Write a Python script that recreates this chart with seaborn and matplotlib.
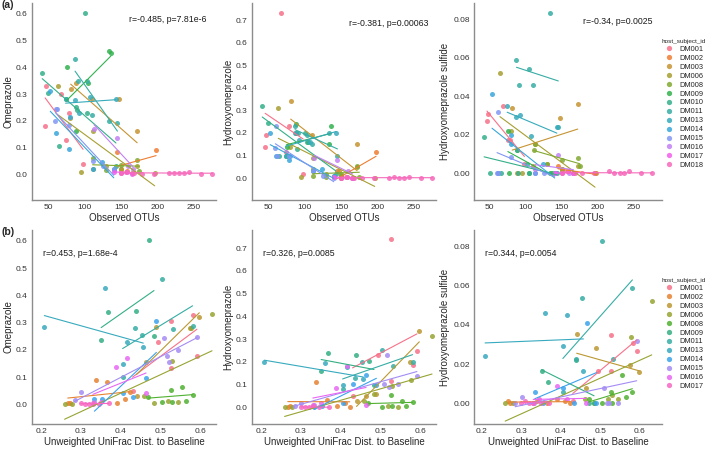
import numpy as np
import matplotlib
matplotlib.use('Agg')
import matplotlib.pyplot as plt
import seaborn as sns
from matplotlib.lines import Line2D

sns.set_style('white')
plt.rcParams['font.family'] = ['Liberation Sans', 'DejaVu Sans']

# ---- (a) Observed OTUs vs metabolites, per subject ----
top_subjects = ['DM001', 'DM002', 'DM003', 'DM006', 'DM008', 'DM009', 'DM010',
                'DM011', 'DM013', 'DM014', 'DM015', 'DM016', 'DM017', 'DM018']

top_otus = {
    'DM001': [46, 47, 68, 75, 78, 98],
    'DM002': [145, 150, 158, 165, 198],
    'DM003': [81, 88, 110, 147, 150, 172],
    'DM006': [64, 80, 95, 112, 130, 150, 172, 196],
    'DM008': [111, 112, 130, 150, 172, 175],
    'DM009': [75, 76, 88, 105, 133, 136],
    'DM010': [42, 50, 65, 88, 89, 101, 104, 140, 143],
    'DM011': [87, 91, 104, 110, 133, 145],
    'DM013': [74, 87, 92, 107, 143],
    'DM014': [53, 61, 79, 80, 112, 124, 140],
    'DM015': [60, 61, 62, 79, 112, 125, 140],
    'DM016': [113, 144, 160, 166],
    'DM017': [140, 150, 158, 165],
    'DM018': [150, 157, 168, 178, 195, 215, 222, 230, 236, 243, 260, 275],
}
top_omep = {
    'DM001': [0.18, 0.33, 0.30, 0.13, 0.23, 0.04],
    'DM002': [0.085, 0.02, 0.014, 0.006, 0.092],
    'DM003': [0.32, 0.34, 0.28, 0.28, 0.01, 0.16],
    'DM006': [0.33, 0.21, 0.01, 0.16, 0.03, 0.02, 0.03, 0.005],
    'DM008': [0.062, 0.02, 0.015, 0.035, 0.054, 0.012],
    'DM009': [0.28, 0.40, 0.16, 0.34, 0.46, 0.455],
    'DM010': [0.378, 0.303, 0.106, 0.253, 0.24, 0.602, 0.228, 0.02, 0.03],
    'DM011': [0.43, 0.35, 0.35, 0.22, 0.2, 0.19],
    'DM013': [0.28, 0.278, 0.228, 0.288, 0.28],
    'DM014': [0.31, 0.153, 0.096, 0.213, 0.02, 0.047, 0.015],
    'DM015': [0.2, 0.245, 0.243, 0.185, 0.05, 0.03, 0.02],
    'DM016': [0.17, 0.135, 0.03, 0.02],
    'DM017': [0.01, 0.005, 0.008, 0.003],
    'DM018': [0.005, 0.01, 0.004, 0.003, 0.003, 0.004, 0.004, 0.005, 0.004, 0.01, 0.003, 0.003],
}
top_hydroxy = {
    'DM001': [0.14, 0.19, 0.73, 0.115, 0.23, 0.02],
    'DM002': [0.03, 0.01, 0.005, 0.0, 0.114],
    'DM003': [0.34, 0.2, 0.19, 0.03, 0.0, 0.15],
    'DM006': [0.31, 0.14, 0.005, 0.09, 0.02, 0.01, 0.05, 0.0],
    'DM008': [0.04, 0.01, 0.005, 0.02, 0.055, 0.005],
    'DM009': [0.1, 0.14, 0.24, 0.16, 0.15, 0.23],
    'DM010': [0.32, 0.245, 0.1, 0.2, 0.13, 0.2, 0.16, 0.01, 0.02],
    'DM011': [0.23, 0.2, 0.19, 0.15, 0.2, 0.1],
    'DM013': [0.1, 0.2, 0.17, 0.16, 0.2],
    'DM014': [0.2, 0.1, 0.08, 0.1, 0.03, 0.04, 0.01],
    'DM015': [0.135, 0.23, 0.1, 0.1, 0.03, 0.01, 0.0],
    'DM016': [0.09, 0.08, 0.03, 0.0],
    'DM017': [0.005, 0.002, 0.004, 0.0],
    'DM018': [0.002, 0.004, 0.0, 0.001, 0.002, 0.001, 0.003, 0.002, 0.001, 0.006, 0.001, 0.0],
}
top_sulfide = {
    'DM001': [0.027, 0.031, 0.035, 0.017, 0.017, 0.005],
    'DM002': [0.0035, 0.002, 0.001, 0.0, 0.0],
    'DM003': [0.034, 0.0, 0.004, 0.0285, 0.001, 0.036],
    'DM006': [0.052, 0.022, 0.0, 0.015, 0.005, 0.002, 0.004, 0.0],
    'DM008': [0.012, 0.015, 0.005, 0.007, 0.008, 0.004],
    'DM009': [0.022, 0.0, 0.012, 0.0, 0.0, 0.0],
    'DM010': [0.019, 0.0, 0.0, 0.012, 0.0, 0.005, 0.0, 0.0, 0.0],
    'DM011': [0.059, 0.046, 0.054, 0.046, 0.083, 0.024],
    'DM013': [0.035, 0.029, 0.03, 0.0195, 0.024],
    'DM014': [0.041, 0.0, 0.02, 0.015, 0.0, 0.005, 0.0],
    'DM015': [0.0, 0.032, 0.0, 0.0085, 0.0, 0.0, 0.0],
    'DM016': [0.002, 0.0094, 0.0, 0.0],
    'DM017': [0.0, 0.0, 0.001, 0.0],
    'DM018': [0.0, 0.001, 0.0, 0.0, 0.0, 0.001, 0.0, 0.0, 0.0, 0.001, 0.0, 0.0],
}

# ---- (b) UniFrac distance to baseline vs metabolites ----
bot_subjects = ['DM001', 'DM002', 'DM003', 'DM006', 'DM008', 'DM009',
                'DM011', 'DM013', 'DM014', 'DM015', 'DM016', 'DM017']

bot_unifrac = {
    'DM001': [0.43, 0.495, 0.527, 0.528, 0.583, 0.592],
    'DM002': [0.267, 0.272, 0.339, 0.366, 0.39, 0.41, 0.423],
    'DM003': [0.44, 0.463, 0.489, 0.575, 0.598],
    'DM006': [0.259, 0.278, 0.46, 0.485, 0.52, 0.53, 0.545, 0.577, 0.63],
    'DM008': [0.47, 0.505, 0.528, 0.53, 0.554, 0.565, 0.581],
    'DM009': [0.351, 0.368, 0.438, 0.471, 0.484],
    'DM011': [0.405, 0.437, 0.453, 0.503, 0.531, 0.581],
    'DM013': [0.208, 0.36, 0.405, 0.415, 0.457],
    'DM014': [0.334, 0.354, 0.405, 0.432, 0.465, 0.49],
    'DM015': [0.284, 0.301, 0.332, 0.509, 0.516, 0.522, 0.545, 0.592],
    'DM016': [0.33, 0.35, 0.389, 0.415, 0.464],
    'DM017': [0.3, 0.31, 0.32, 0.33, 0.345, 0.37],
}
bot_omep = {
    'DM001': [0.05, 0.23, 0.306, 0.132, 0.328, 0.178],
    'DM002': [0.005, 0.005, 0.09, 0.083, 0.005, 0.02, 0.045],
    'DM003': [0.03, 0.157, 0.283, 0.28, 0.322],
    'DM006': [0.0, 0.003, 0.03, 0.006, 0.012, 0.16, 0.01, 0.279, 0.332],
    'DM008': [0.028, 0.01, 0.053, 0.01, 0.065, 0.012, 0.034],
    'DM009': [0.236, 0.34, 0.344, 0.604, 0.25],
    'DM011': [0.1, 0.279, 0.255, 0.459, 0.276, 0.288],
    'DM013': [0.285, 0.426, 0.15, 0.23, 0.212],
    'DM014': [0.02, 0.018, 0.04, 0.028, 0.095, 0.307],
    'DM015': [0.015, 0.047, 0.01, 0.242, 0.178, 0.157, 0.2, 0.246],
    'DM016': [0.003, 0.01, 0.136, 0.169, 0.04],
    'DM017': [0.005, 0.0, 0.003, 0.005, 0.002, 0.004],
}
bot_hydroxy = {
    'DM001': [0.05, 0.23, 0.74, 0.117, 0.186, 0.25],
    'DM002': [0.0, 0.005, 0.113, 0.032, 0.005, 0.02, 0.0],
    'DM003': [0.03, 0.05, 0.06, 0.2, 0.338],
    'DM006': [0.0, 0.002, 0.03, 0.059, 0.005, 0.094, 0.0, 0.12, 0.314],
    'DM008': [0.02, 0.0, 0.054, 0.005, 0.03, 0.005, 0.025],
    'DM009': [0.16, 0.24, 0.23, 0.205, 0.1],
    'DM011': [0.08, 0.13, 0.2, 0.252, 0.18, 0.2],
    'DM013': [0.2, 0.194, 0.1, 0.179, 0.126],
    'DM014': [0.0, 0.005, 0.02, 0.103, 0.142, 0.098],
    'DM015': [0.005, 0.02, 0.01, 0.105, 0.23, 0.091, 0.103, 0.138],
    'DM016': [0.01, 0.02, 0.087, 0.182, 0.01],
    'DM017': [0.003, 0.0, 0.002, 0.004, 0.0, 0.001],
}
bot_sulfide = {
    'DM001': [0.001, 0.0167, 0.0349, 0.0167, 0.031, 0.0267],
    'DM002': [0.001, 0.0, 0.001, 0.0, 0.002, 0.001, 0.0],
    'DM003': [0.0356, 0.008, 0.028, 0.0194, 0.016],
    'DM006': [0.0, 0.0, 0.002, 0.0, 0.002, 0.004, 0.002, 0.0337, 0.0523],
    'DM008': [0.002, 0.0, 0.006, 0.0, 0.0145, 0.003, 0.006],
    'DM009': [0.0167, 0.011, 0.0221, 0.0, 0.0],
    'DM011': [0.006, 0.0225, 0.054, 0.083, 0.0225, 0.0587],
    'DM013': [0.024, 0.046, 0.029, 0.045, 0.0167],
    'DM014': [0.0056, 0.0, 0.008, 0.0, 0.041, 0.0],
    'DM015': [0.0, 0.003, 0.0, 0.008, 0.0, 0.0, 0.0, 0.032],
    'DM016': [0.0, 0.0, 0.009, 0.002, 0.0],
    'DM017': [0.0, 0.001, 0.0, 0.0, 0.002, 0.0],
}

top_stats = ['r=-0.485, p=7.81e-6', 'r=-0.381, p=0.00063', 'r=-0.34, p=0.0025']
bot_stats = ['r=0.453, p=1.68e-4', 'r=0.326, p=0.0085', 'r=0.344, p=0.0054']
ylabels = ['Omeprazole', 'Hydroxyomeprazole', 'Hydroxyomeprazole sulfide']

W, H = 709, 449
fig = plt.figure(figsize=(W / 100, H / 100), dpi=100)


def add_ax(x0, x1, y0, y1):
    # pixel box -> figure fraction
    return fig.add_axes([x0 / W, 1 - y1 / H, (x1 - x0) / W, (y1 - y0) / H])


def draw(ax, xs, ys, subjects, pal):
    for i, s in enumerate(subjects):
        sns.regplot(x=np.array(xs[s], float), y=np.array(ys[s], float), ax=ax,
                    ci=None, color=pal[i],
                    scatter_kws=dict(s=13, alpha=0.85, linewidths=0),
                    line_kws=dict(lw=0.8))


def style(ax, xlabel, ylabel, xlim, ylim, yticks, yfmt):
    sns.despine(ax=ax)
    for sp in ['left', 'bottom']:
        ax.spines[sp].set_color('0.55')
        ax.spines[sp].set_linewidth(1.0)
    ax.set_xlim(*xlim)
    ax.set_ylim(*ylim)
    ax.set_yticks(yticks)
    ax.set_yticklabels([yfmt.format(v) for v in yticks])
    ax.tick_params(length=0, labelsize=6, colors='0.2', pad=3)
    ax.set_xlabel(xlabel, fontsize=7, color='0.15', labelpad=1.5)
    ax.set_ylabel(ylabel, fontsize=7, color='0.15', labelpad=2)


top_pal = sns.color_palette('husl', len(top_subjects))
bot_pal = sns.color_palette('husl', len(bot_subjects))

top_boxes = [(32, 216), (252, 436), (474, 662)]
top_ylims = [(-0.096, 0.64), (-0.097, 0.776), (-0.0139, 0.0884)]
bot_ylims = [(-0.072, 0.64), (-0.073, 0.78), (-0.0106, 0.0885)]
top_xlims = [(28, 280), (28, 280), (28, 289)]
bot_xlims = [(0.177, 0.64), (0.177, 0.64), (0.18, 0.656)]
yticks_list = [np.arange(0, 0.61, 0.1), np.arange(0, 0.71, 0.1), np.arange(0, 0.081, 0.02)]
yfmts = ['{:.1f}', '{:.1f}', '{:.2f}']
top_ys = [top_omep, top_hydroxy, top_sulfide]
bot_ys = [bot_omep, bot_hydroxy, bot_sulfide]
top_txt_pos = [(0.951, 0.914), (0.957, 0.898), (0.952, 0.904)]

for k in range(3):
    x0, x1 = top_boxes[k]
    ax = add_ax(x0, x1, 3, 200)
    draw(ax, top_otus, top_ys[k], top_subjects, top_pal)
    style(ax, 'Observed OTUs', ylabels[k], top_xlims[k], top_ylims[k],
          yticks_list[k], yfmts[k])
    ax.set_xticks([50, 100, 150, 200, 250])
    ax.text(*top_txt_pos[k], top_stats[k], transform=ax.transAxes,
            ha='right', va='center', fontsize=6.3, color='0.1')

    ax = add_ax(x0, x1, 230, 424)
    draw(ax, bot_unifrac, bot_ys[k], bot_subjects, bot_pal)
    style(ax, 'Unweighted UniFrac Dist. to Baseline', ylabels[k], bot_xlims[k],
          bot_ylims[k], yticks_list[k], yfmts[k])
    ax.set_xticks([0.2, 0.3, 0.4, 0.5, 0.6])
    ax.set_xticklabels(['0.2', '0.3', '0.4', '0.5', '0.6'])
    ax.text(0.058, 0.88, bot_stats[k], transform=ax.transAxes,
            ha='left', va='center', fontsize=6.3, color='0.1')

fig.text(1 / W, 1 - 5 / H, '(a)', fontsize=7.5, fontweight='bold', va='center', ha='left')
fig.text(1 / W, 1 - 232 / H, '(b)', fontsize=7.5, fontweight='bold', va='center', ha='left')


def add_legend(subjects, pal, top_px):
    handles = [Line2D([], [], marker='o', ls='', color=c, markersize=3.8,
                      markeredgewidth=0, alpha=0.85) for c in pal]
    leg = fig.legend(handles, subjects, title='host_subject_id', loc='upper left',
                     bbox_to_anchor=(662 / W, 1 - top_px / H), frameon=False,
                     fontsize=5.3, title_fontsize=4.6, borderpad=0, borderaxespad=0,
                     handlelength=1.0, handletextpad=0.9, labelspacing=0.24)
    for t in leg.get_texts():
        t.set_color('0.15')
    leg.get_title().set_color('0.15')


add_legend(top_subjects, top_pal, 39)
add_legend(bot_subjects, bot_pal, 278)

fig.savefig('out.png', dpi=100)
